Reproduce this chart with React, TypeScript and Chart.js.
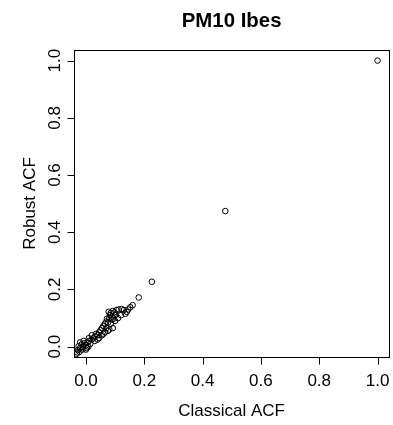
import React, { useEffect, useRef } from "react";
import { Chart, registerables } from "chart.js";

Chart.register(...registerables);

const chartTitle = "PM10 Ibes";
const xAxisTitle = "Classical ACF";
const yAxisTitle = "Robust ACF";
const xTicks = [0, 0.2, 0.4, 0.6, 0.8, 1.0];
const yTicks = [0, 0.2, 0.4, 0.6, 0.8, 1.0];

const classicalAcf = [
  1.0, 0.478, 0.226, 0.181,
  0.160, 0.152, 0.145, 0.140, 0.135, 0.130, 0.122, 0.112, 0.105, 0.098,
  0.092, 0.085, 0.078, 0.082, 0.090, 0.095, 0.100, 0.088, 0.080, 0.072,
  0.070, 0.076, 0.085, 0.092, 0.065, 0.060, 0.055, 0.070, 0.080, 0.050,
  0.045, 0.060, 0.040, 0.035, 0.030, 0.025, 0.020, 0.010, 0.015, 0.005,
  0.000, -0.005, -0.010, -0.015, -0.020, -0.025, -0.028, -0.030, -0.032,
  -0.022, -0.012, 0.003, 0.008,
  0.030, 0.045, 0.055, 0.065, 0.075, 0.020, 0.010, -0.020, 0.000, 0.100,
  0.110, 0.120, 0.040, -0.008,
];
const robustAcf = [
  1.0, 0.474, 0.227, 0.172,
  0.145, 0.138, 0.130, 0.122, 0.115, 0.128, 0.132, 0.130, 0.128, 0.120,
  0.125, 0.118, 0.122, 0.110, 0.105, 0.098, 0.110, 0.095, 0.100, 0.098,
  0.088, 0.085, 0.080, 0.065, 0.080, 0.072, 0.065, 0.065, 0.060, 0.058,
  0.050, 0.045, 0.040, 0.045, 0.035, 0.030, 0.025, 0.020, 0.010, 0.015,
  0.005, 0.012, 0.000, 0.008, -0.005, 0.002, -0.012, -0.020, -0.025,
  -0.018, -0.010, -0.005, 0.000,
  0.020, 0.030, 0.040, 0.050, 0.055, 0.040, 0.030, 0.015, -0.010, 0.090,
  0.100, 0.110, 0.025, 0.020,
];

const FONT = "'Liberation Sans', Arial, Helvetica, sans-serif";

const rAxesPlugin = {
  id: "rAxes",
  afterDraw(chart: any) {
    const ctx = chart.ctx as CanvasRenderingContext2D;
    const area = chart.chartArea;
    const xs = chart.scales.x;
    const ys = chart.scales.y;
    ctx.save();
    ctx.strokeStyle = "#000";
    ctx.fillStyle = "#000";
    ctx.lineWidth = 1;
    ctx.strokeRect(
      Math.round(area.left) + 0.5,
      Math.round(area.top) + 0.5,
      Math.round(area.right - area.left),
      Math.round(area.bottom - area.top)
    );
    const bottom = Math.round(area.bottom) + 0.5;
    const left = Math.round(area.left) + 0.5;
    ctx.beginPath();
    const x0 = Math.round(xs.getPixelForValue(xTicks[0])) + 0.5;
    const x1 = Math.round(xs.getPixelForValue(xTicks[xTicks.length - 1])) + 0.5;
    ctx.moveTo(x0, bottom);
    ctx.lineTo(x1, bottom);
    xTicks.forEach((t) => {
      const px = Math.round(xs.getPixelForValue(t)) + 0.5;
      ctx.moveTo(px, bottom);
      ctx.lineTo(px, bottom + 7);
    });
    const y0 = Math.round(ys.getPixelForValue(yTicks[0])) + 0.5;
    const y1 = Math.round(ys.getPixelForValue(yTicks[yTicks.length - 1])) + 0.5;
    ctx.moveTo(left, y0);
    ctx.lineTo(left, y1);
    yTicks.forEach((t) => {
      const py = Math.round(ys.getPixelForValue(t)) + 0.5;
      ctx.moveTo(left, py);
      ctx.lineTo(left - 7, py);
    });
    ctx.stroke();

    ctx.font = `17px ${FONT}`;
    ctx.textAlign = "center";
    ctx.textBaseline = "alphabetic";
    xTicks.forEach((t) => {
      const px = xs.getPixelForValue(t);
      ctx.fillText(t.toFixed(1), px, 385.5);
    });
    yTicks.forEach((t) => {
      const py = ys.getPixelForValue(t);
      ctx.save();
      ctx.translate(60, py);
      ctx.rotate(-Math.PI / 2);
      ctx.fillText(t.toFixed(1), 0, 0);
      ctx.restore();
    });
    const cx = (area.left + area.right) / 2;
    const cy = (area.top + area.bottom) / 2;
    ctx.fillText(xAxisTitle, cx, 416);
    ctx.save();
    ctx.translate(34.5, cy);
    ctx.rotate(-Math.PI / 2);
    ctx.fillText(yAxisTitle, 0, 0);
    ctx.restore();
    ctx.font = `bold 20.4px ${FONT}`;
    ctx.fillText(chartTitle, cx, 26.5);
    ctx.restore();
  },
};

export default function App() {
  const canvasRef = useRef<HTMLCanvasElement | null>(null);
  useEffect(() => {
    if (!canvasRef.current) return;
    const points = classicalAcf.map((x, i) => ({ x, y: robustAcf[i] }));
    const chart = new Chart(canvasRef.current, {
      type: "scatter",
      data: {
        datasets: [
          {
            data: points,
            pointRadius: 2.8,
            pointHoverRadius: 2.8,
            pointBorderWidth: 1,
            pointBorderColor: "#000",
            pointBackgroundColor: "rgba(0,0,0,0)",
            showLine: false,
          },
        ],
      },
      options: {
        responsive: false,
        animation: false,
        maintainAspectRatio: false,
        layout: { padding: { left: 74, top: 50, right: 2, bottom: 68 } },
        plugins: {
          legend: { display: false },
          tooltip: { enabled: false },
          title: { display: false },
        },
        scales: {
          x: { type: "linear", display: false, min: -0.041, max: 1.04 },
          y: { type: "linear", display: false, min: -0.036, max: 1.037 },
        },
      },
      plugins: [rAxesPlugin],
    });
    return () => chart.destroy();
  }, []);
  return (
    <div style={{ position: "absolute", left: 0, top: 0, width: 393, height: 425, background: "#fff" }}>
      <canvas ref={canvasRef} width={393} height={425} style={{ display: "block" }} />
    </div>
  );
}
